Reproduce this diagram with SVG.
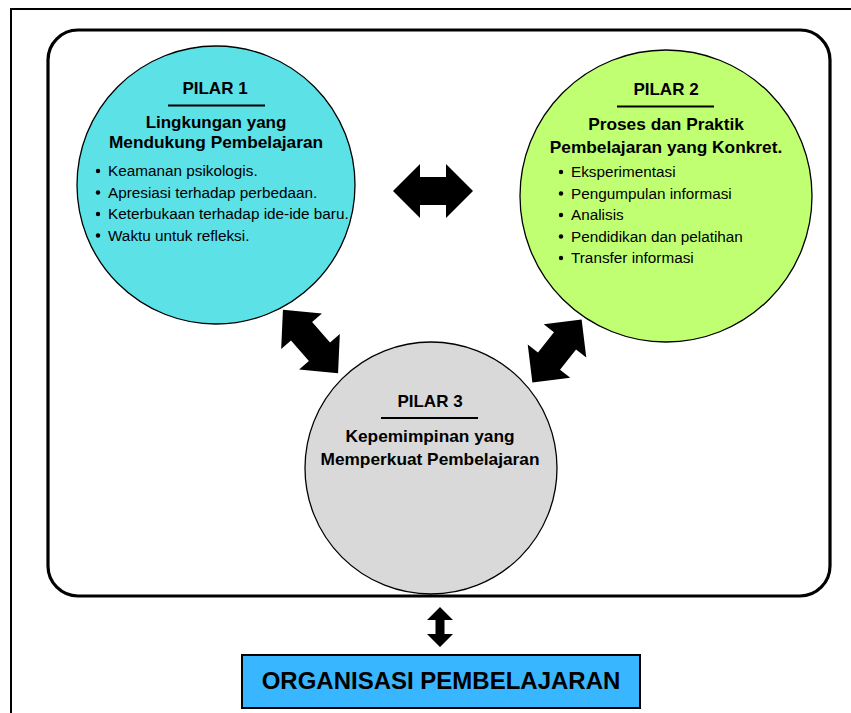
<svg xmlns="http://www.w3.org/2000/svg" xmlns:xlink="http://www.w3.org/1999/xlink" width="851" height="713" viewBox="0 0 851 713">
  <style>
    text { font-family: "Liberation Sans", Arial, sans-serif; fill: #000; }
    .title { font-size: 17px; font-weight: bold; text-anchor: middle; }
    .head { font-size: 17.3px; font-weight: bold; text-anchor: middle; }
    .tight { font-size: 17px; }
    .item { font-size: 15.3px; }
    .rule { stroke: #000; stroke-width: 2.2; }
    .pillar { stroke: #000; stroke-width: 1.3; }
    .arrow { fill: #000; }
  </style>
  <defs>
    <path id="dbl" d="M-40,0 L-13,-27 L-13,-14 L13,-14 L13,-27 L40,0 L13,27 L13,14 L-13,14 L-13,27 Z"/>
  </defs>
  <rect x="0" y="0" width="851" height="713" fill="#fff"/>
  <!-- outer frame -->
  <path d="M11,713 L11,9 L851,9" fill="none" stroke="#000" stroke-width="2"/>
  <!-- inner rounded frame -->
  <rect x="48" y="30" width="782" height="566" rx="30" ry="30" fill="none" stroke="#000" stroke-width="3.2"/>

  <g id="pilar1">
    <circle class="pillar" cx="216" cy="185" r="139" fill="#5CE1E6"/>
    <text class="title" x="215" y="94">PILAR 1</text>
    <line class="rule" x1="168" y1="105.5" x2="265" y2="105.5"/>
    <text class="head tight" x="216" y="127.5">Lingkungan yang</text>
    <text class="head" x="216" y="147.5">Mendukung Pembelajaran</text>
    <g>
      <circle cx="98" cy="171" r="2.2"/><text class="item" x="108" y="176">Keamanan psikologis.</text>
      <circle cx="98" cy="192.5" r="2.2"/><text class="item" x="108" y="197.5">Apresiasi terhadap perbedaan.</text>
      <circle cx="98" cy="214" r="2.2"/><text class="item" x="108" y="219">Keterbukaan terhadap ide-ide baru.</text>
      <circle cx="98" cy="235.5" r="2.2"/><text class="item" x="108" y="240.5">Waktu untuk refleksi.</text>
    </g>
  </g>

  <g id="pilar2">
    <circle class="pillar" cx="666" cy="196" r="146" fill="#C1FF72"/>
    <text class="title" x="666" y="95">PILAR 2</text>
    <line class="rule" x1="617" y1="106.5" x2="714" y2="106.5"/>
    <text class="head" x="666" y="130">Proses dan Praktik</text>
    <text class="head" x="666" y="152.5">Pembelajaran yang Konkret.</text>
    <g>
      <circle cx="561" cy="172" r="2.2"/><text class="item" x="571" y="177">Eksperimentasi</text>
      <circle cx="561" cy="193.5" r="2.2"/><text class="item" x="571" y="198.5">Pengumpulan informasi</text>
      <circle cx="561" cy="215" r="2.2"/><text class="item" x="571" y="220">Analisis</text>
      <circle cx="561" cy="236.5" r="2.2"/><text class="item" x="571" y="241.5">Pendidikan dan pelatihan</text>
      <circle cx="561" cy="258" r="2.2"/><text class="item" x="571" y="263">Transfer informasi</text>
    </g>
  </g>

  <g id="pilar3">
    <circle class="pillar" cx="431" cy="468" r="126" fill="#D9D9D9"/>
    <text class="title" x="430" y="407">PILAR 3</text>
    <line class="rule" x1="381" y1="418" x2="478" y2="418"/>
    <text class="head" x="430" y="442">Kepemimpinan yang</text>
    <text class="head" x="430" y="465">Memperkuat Pembelajaran</text>
  </g>

  <g id="organisasi">
    <rect x="242" y="655" width="398" height="53" fill="#38B6FF" stroke="#000" stroke-width="2"/>
    <text x="441" y="689" style="font-size:24px;font-weight:bold;text-anchor:middle">ORGANISASI PEMBELAJARAN</text>
  </g>

  <g id="connectors" class="arrow">
    <use xlink:href="#dbl" href="#dbl" transform="translate(433,191)"/>
    <use xlink:href="#dbl" href="#dbl" transform="translate(310.5,341.5) rotate(49) scale(1.05,1)"/>
    <use xlink:href="#dbl" href="#dbl" transform="translate(557,351) rotate(-52)"/>
    <path d="M440,607 L453,620 L444.5,620 L444.5,634 L453,634 L440,647 L427,634 L435.5,634 L435.5,620 L427,620 Z"/>
  </g>
</svg>
